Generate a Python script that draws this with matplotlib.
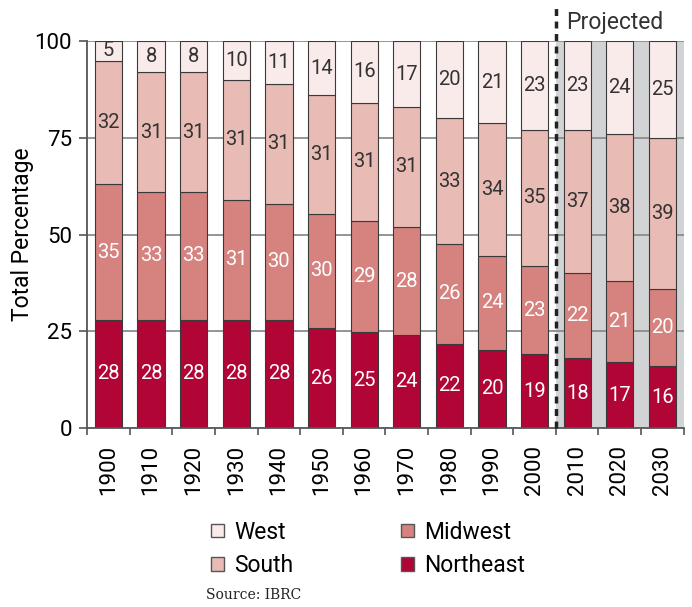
import numpy as np
import matplotlib.pyplot as plt
from matplotlib.patches import Patch

plt.rcParams["font.family"] = ["Roboto", "DejaVu Sans"]

YEARS = ["1900", "1910", "1920", "1930", "1940", "1950", "1960",
         "1970", "1980", "1990", "2000", "2010", "2020", "2030"]

northeast = [28, 28, 28, 28, 28, 26, 25, 24, 22, 20, 19, 18, 17, 16]
midwest = [35, 33, 33, 31, 30, 30, 29, 28, 26, 24, 23, 22, 21, 20]
south = [32, 31, 31, 31, 31, 31, 31, 31, 33, 34, 35, 37, 38, 39]
west = [5, 8, 8, 10, 11, 14, 16, 17, 20, 21, 23, 23, 24, 25]

SERIES = [
    ("Northeast", northeast, "#B00535", "white"),
    ("Midwest", midwest, "#D6837F", "white"),
    ("South", south, "#E8BBB4", "#333333"),
    ("West", west, "#FAEBEB", "#333333"),
]

fig = plt.figure(figsize=(6.92, 6.07), dpi=100)
ax = fig.add_axes([0.126, 0.295, 0.862, 0.637])

x = np.arange(len(YEARS))

# сумма по столбцу, чтобы каждый столбец доходил до 100
totals = np.array(northeast) + np.array(midwest) + np.array(south) + np.array(west)

# серая зона прогноза
ax.axvspan(10.5, 13.5, color="#D1D3D4", zorder=0, lw=0)

for yv in [25, 50, 75, 100]:
    ax.axhline(yv, color="#8C8C8C", lw=1.3, zorder=1)

bottom = np.zeros(len(YEARS))
for name, vals, color, txt_color in SERIES:
    vals = np.array(vals, dtype=float)
    heights = vals / totals * 100
    ax.bar(x, heights, width=0.64, bottom=bottom, color=color,
           edgecolor="#3A3A3A", linewidth=0.8, zorder=2, label=name)
    for i in range(len(YEARS)):
        cy = bottom[i] + heights[i] / 2
        ax.text(x[i], cy, str(int(vals[i])), ha="center", va="center",
                fontsize=14.5, color=txt_color, zorder=3)
    bottom += heights

ax.set_xlim(-0.5, 13.5)
ax.set_ylim(0, 100)

ax.set_yticks([0, 25, 50, 75, 100])
ax.tick_params(axis="y", labelsize=16, length=6, color="#555555", width=1.2, pad=5)

ax.set_xticks(x)
ax.set_xticklabels(YEARS, rotation=90, fontsize=16)
ax.tick_params(axis="x", length=0, pad=12)
ax.set_xticks(np.arange(-0.5, 14, 1), minor=True)
ax.tick_params(axis="x", which="minor", length=5, color="#555555", width=1.2)

for side in ["top", "right"]:
    ax.spines[side].set_visible(False)
ax.spines["left"].set_color("#555555")
ax.spines["left"].set_linewidth(1.3)
ax.spines["bottom"].set_color("#555555")
ax.spines["bottom"].set_linewidth(1.3)

ax.set_ylabel("Total Percentage", fontsize=16.5)
ax.yaxis.set_label_coords(-0.09, 0.5)

# пунктир и подпись прогноза
ax.plot([10.5, 10.5], [0, 109], color="#222222", lw=2.5,
        linestyle=(0, (2, 1.6)), clip_on=False, zorder=4)
ax.text(10.75, 104.8, "Projected", fontsize=16.5, color="#333333",
        ha="left", va="center", clip_on=False)

handles = [
    Patch(facecolor="#FAEBEB", edgecolor="#555555", label="West"),
    Patch(facecolor="#E8BBB4", edgecolor="#555555", label="South"),
    Patch(facecolor="#D6837F", edgecolor="#555555", label="Midwest"),
    Patch(facecolor="#B00535", edgecolor="#555555", label="Northeast"),
]
fig.legend(handles=handles, loc="center", ncol=2, frameon=False,
           bbox_to_anchor=(0.532, 0.096), fontsize=16.5,
           handlelength=0.55, handleheight=0.55, columnspacing=4.7,
           labelspacing=0.45, handletextpad=0.45)

fig.text(0.297, 0.008, "Source: IBRC", family="DejaVu Serif", fontsize=10,
         color="#222222", ha="left", va="bottom")

fig.savefig("out.png", dpi=100)
